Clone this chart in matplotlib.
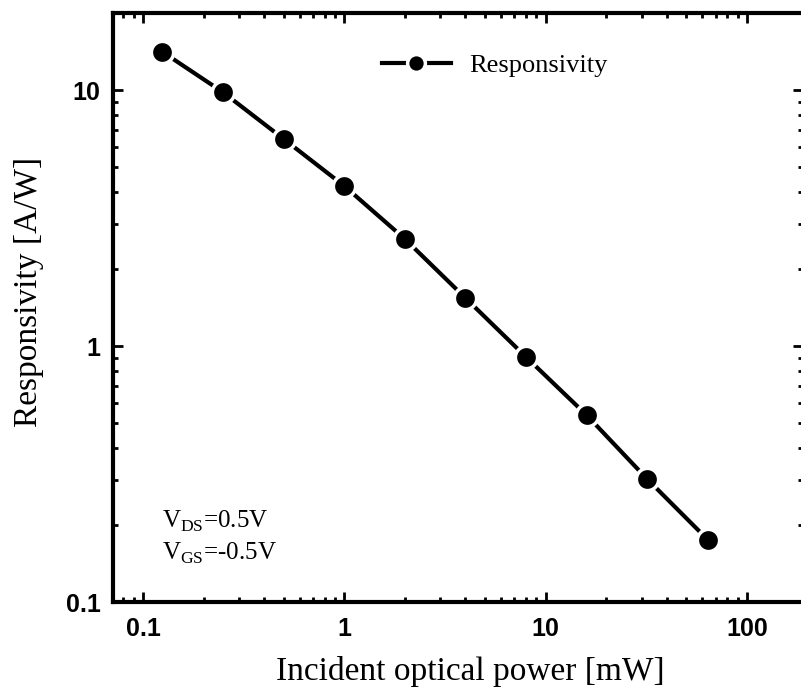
import numpy as np
import matplotlib
matplotlib.use('Agg')
import matplotlib.pyplot as plt
from matplotlib.ticker import LogLocator, FuncFormatter, NullFormatter

# Datos medidos
power_mw = [0.125, 0.25, 0.5, 1, 2, 4, 8, 16, 32, 64]
responsivity = [14.1, 9.8, 6.44, 4.22, 2.62, 1.54, 0.906, 0.537, 0.302, 0.175]
x_ticks = [0.1, 1, 10, 100]
y_ticks = [0.1, 1, 10]

plt.rcParams['mathtext.fontset'] = 'custom'
plt.rcParams['mathtext.rm'] = 'Liberation Serif'
serif = 'Liberation Serif'
sans = 'Liberation Sans'

fig = plt.figure(figsize=(8.01, 6.97), dpi=100)
ax = fig.add_axes([113 / 801, 1 - 602 / 697, (803 - 113) / 801, (602 - 13) / 697])

ax.plot(power_mw, responsivity, '-o', color='black', lw=3,
        ms=16, mfc='black', mec='white', mew=2.5, label='Responsivity')

ax.set_xscale('log')
ax.set_yscale('log')
ax.set_xlim(0.071, 190)
ax.set_ylim(0.1, 20)

fmt = FuncFormatter(lambda v, _: f'{v:g}')
ax.set_xticks(x_ticks)
ax.set_yticks(y_ticks)
ax.xaxis.set_major_formatter(fmt)
ax.yaxis.set_major_formatter(fmt)
for axis in (ax.xaxis, ax.yaxis):
    axis.set_minor_locator(LogLocator(base=10, subs=np.arange(2, 10)))
    axis.set_minor_formatter(NullFormatter())

ax.tick_params(which='both', direction='in', top=True, right=True, width=2)
ax.tick_params(which='major', length=7)
ax.tick_params(which='minor', length=3.5)
ax.tick_params(axis='x', which='major', pad=11)
ax.tick_params(axis='y', which='major', pad=9)
for lab in ax.get_xticklabels() + ax.get_yticklabels():
    lab.set_fontfamily(sans)
    lab.set_fontweight('bold')
    lab.set_fontsize(18)

for sp in ax.spines.values():
    sp.set_linewidth(3)

ax.set_xlabel('Incident optical power [mW]', fontfamily=serif, fontsize=24)
ax.set_ylabel('Responsivity [A/W]', fontfamily=serif, fontsize=24)
ax.xaxis.set_label_coords((470 - 113) / 690, (602 - 656) / 589)
ax.yaxis.set_label_coords((44 - 113) / 690, (602 - 292) / 589)

# Condiciones de polarizacion
ax.text((162 - 113) / 690, (602 - 528) / 589, r'V$_{\mathrm{DS}}$=0.5V',
        transform=ax.transAxes, fontfamily=serif, fontsize=18, va='baseline')
ax.text((162 - 113) / 690, (602 - 560) / 589, r'V$_{\mathrm{GS}}$=-0.5V',
        transform=ax.transAxes, fontfamily=serif, fontsize=18, va='baseline')

leg = ax.legend(loc='upper left', bbox_to_anchor=((382 - 113) / 690, (602 - 54) / 589),
                frameon=False, borderpad=0, borderaxespad=0, handlelength=2.6,
                handletextpad=0.7, markerscale=0.8, prop={'family': serif, 'size': 19})

fig.savefig('out.png', dpi=100)
